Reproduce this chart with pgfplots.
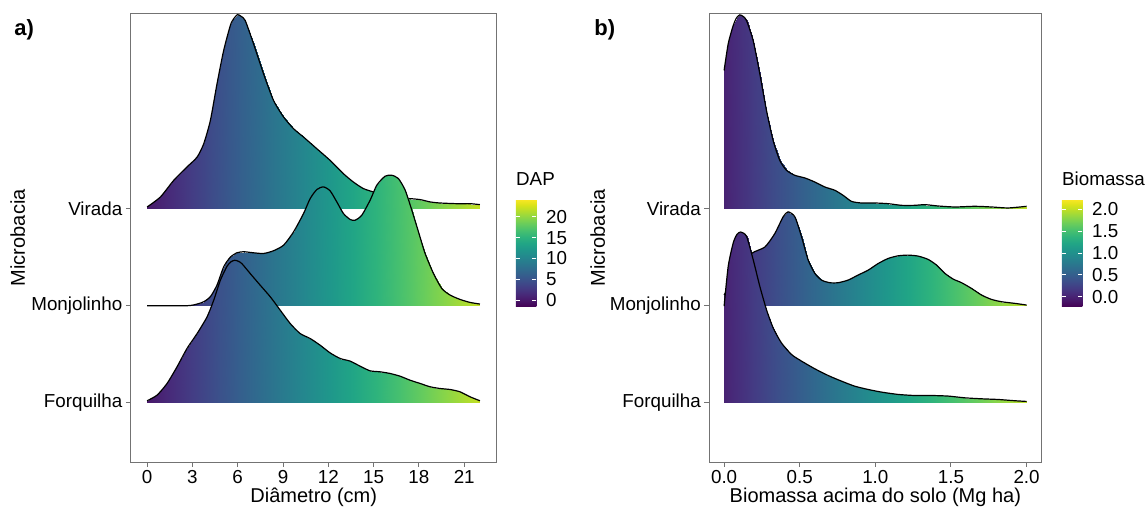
\documentclass[border=0pt]{standalone}
\usepackage{fontspec}
\setmainfont{Liberation Sans}
\usepackage{pgfplots}
\usepackage{pgfplotstable}
\pgfplotsset{compat=1.18}

\definecolor{framegray}{gray}{0.45}

% each ridge: first the baseline row, then the density row (same x)
% Diametro (cm)
\pgfplotstableread{
x y
0.00 3
0.88 3
1.76 3
2.64 3
3.31 3
3.75 3
4.19 3
4.63 3
5.07 3
5.51 3
5.73 3
5.99 3
6.24 3
6.50 3
7.05 3
7.71 3
8.37 3
9.04 3
9.70 3
10.36 3
11.24 3
12.12 3
13.00 3
13.66 3
14.33 3
15.00 3
15.65 3
16.53 3
17.41 3
18.08 3
18.74 3
19.40 3
20.50 3
21.38 3
22.04 3
0.00 3.017
0.88 3.120
1.76 3.291
2.64 3.429
3.31 3.531
3.75 3.669
4.19 3.909
4.63 4.286
5.07 4.629
5.51 4.886
5.73 4.955
5.99 4.999
6.24 4.979
6.50 4.937
7.05 4.697
7.71 4.389
8.37 4.115
9.04 3.943
9.70 3.823
10.36 3.737
11.24 3.617
12.12 3.497
13.00 3.360
13.66 3.274
14.33 3.206
15.00 3.171
15.65 3.137
16.53 3.110
17.41 3.103
18.08 3.093
18.74 3.069
19.40 3.058
20.50 3.051
21.38 3.051
22.04 3.041
}\virL

\pgfplotstableread{
x y
0.00 2
2.64 2
3.31 2
3.75 2
4.19 2
4.63 2
5.07 2
5.51 2
5.95 2
6.39 2
7.05 2
7.71 2
8.37 2
9.04 2
9.70 2
10.36 2
10.80 2
11.24 2
11.68 2
12.12 2
12.56 2
13.00 2
13.45 2
13.78 2
14.22 2
14.77 2
15.21 2
15.76 2
16.20 2
16.64 2
17.09 2
17.53 2
17.97 2
18.41 2
18.96 2
19.51 2
20.06 2
20.72 2
21.38 2
22.04 2
0.00 2.000
2.64 2.000
3.31 2.017
3.75 2.041
4.19 2.093
4.63 2.213
5.07 2.400
5.51 2.500
5.95 2.545
6.39 2.556
7.05 2.545
7.71 2.538
8.37 2.566
9.04 2.624
9.70 2.761
10.36 2.950
10.80 3.104
11.24 3.197
11.68 3.224
12.12 3.183
12.56 3.070
13.00 2.950
13.45 2.888
13.78 2.881
14.22 2.933
14.77 3.087
15.21 3.241
15.76 3.334
16.20 3.344
16.64 3.310
17.09 3.190
17.53 2.984
17.97 2.761
18.41 2.538
18.96 2.333
19.51 2.178
20.06 2.110
20.72 2.065
21.38 2.034
22.04 2.017
}\monL

\pgfplotstableread{
x y
0.00 1
0.66 1
1.32 1
1.98 1
2.64 1
3.31 1
3.97 1
4.41 1
4.85 1
5.29 1
5.55 1
5.80 1
6.04 1
6.28 1
6.83 1
7.49 1
8.16 1
8.82 1
9.48 1
10.14 1
10.80 1
11.46 1
12.12 1
12.79 1
13.45 1
14.11 1
14.77 1
15.43 1
16.09 1
16.75 1
17.41 1
18.08 1
18.74 1
19.40 1
20.06 1
20.72 1
21.38 1
22.04 1
0.00 1.021
0.66 1.079
1.32 1.199
1.98 1.370
2.64 1.559
3.31 1.713
3.97 1.885
4.41 2.056
4.85 2.262
5.29 2.406
5.55 2.452
5.80 2.468
6.04 2.458
6.28 2.433
6.83 2.331
7.49 2.211
8.16 2.091
8.82 1.953
9.48 1.816
10.14 1.713
10.80 1.662
11.46 1.593
12.12 1.514
12.79 1.456
13.45 1.429
14.11 1.377
14.77 1.329
15.43 1.319
16.09 1.302
16.75 1.274
17.41 1.233
18.08 1.199
18.74 1.165
19.40 1.147
20.06 1.137
20.72 1.113
21.38 1.062
22.04 1.021
}\forL

% Biomassa (Mg ha)
\pgfplotstableread{
x y
0.000 3
0.027 3
0.060 3
0.082 3
0.104 3
0.126 3
0.148 3
0.192 3
0.236 3
0.280 3
0.324 3
0.368 3
0.413 3
0.468 3
0.534 3
0.600 3
0.666 3
0.732 3
0.787 3
0.842 3
0.909 3
0.997 3
1.085 3
1.173 3
1.261 3
1.327 3
1.416 3
1.526 3
1.658 3
1.768 3
1.878 3
2.000 3
0.000 4.423
0.027 4.698
0.060 4.886
0.082 4.965
0.104 4.996
0.126 4.980
0.148 4.938
0.192 4.732
0.236 4.389
0.280 4.012
0.324 3.703
0.368 3.497
0.413 3.394
0.468 3.343
0.534 3.316
0.600 3.274
0.666 3.223
0.732 3.189
0.787 3.137
0.842 3.075
0.909 3.058
0.997 3.058
1.085 3.051
1.173 3.034
1.261 3.034
1.327 3.041
1.416 3.027
1.526 3.017
1.658 3.024
1.768 3.017
1.878 3.007
2.000 3.024
}\virR

\pgfplotstableread{
x y
0.000 2
0.050 2
0.100 2
0.181 2
0.269 2
0.335 2
0.390 2
0.423 2
0.468 2
0.512 2
0.556 2
0.600 2
0.644 2
0.699 2
0.754 2
0.820 2
0.886 2
0.953 2
1.019 2
1.085 2
1.151 2
1.217 2
1.283 2
1.349 2
1.405 2
1.460 2
1.515 2
1.570 2
1.636 2
1.702 2
1.768 2
1.834 2
1.923 2
2.000 2
0.000 2.110
0.050 2.250
0.100 2.380
0.181 2.538
0.269 2.604
0.335 2.743
0.390 2.915
0.423 2.967
0.468 2.915
0.512 2.710
0.556 2.470
0.600 2.333
0.644 2.264
0.699 2.237
0.754 2.237
0.820 2.264
0.886 2.316
0.953 2.367
1.019 2.435
1.085 2.487
1.151 2.514
1.217 2.521
1.283 2.511
1.349 2.477
1.405 2.418
1.460 2.333
1.515 2.274
1.570 2.237
1.636 2.178
1.702 2.110
1.768 2.065
1.834 2.041
1.923 2.024
2.000 2.007
}\monR

\pgfplotstableread{
x y
0.000 1
0.027 1
0.060 1
0.085 1
0.110 1
0.148 1
0.192 1
0.236 1
0.280 1
0.324 1
0.379 1
0.446 1
0.512 1
0.600 1
0.688 1
0.776 1
0.864 1
0.953 1
1.041 1
1.151 1
1.261 1
1.372 1
1.482 1
1.592 1
1.702 1
1.812 1
1.923 1
2.000 1
0.000 1.995
0.027 2.406
0.060 2.646
0.085 2.735
0.110 2.759
0.148 2.715
0.192 2.475
0.236 2.200
0.280 1.960
0.324 1.772
0.379 1.617
0.446 1.497
0.512 1.429
0.600 1.350
0.688 1.281
0.776 1.223
0.864 1.171
0.953 1.137
1.041 1.110
1.151 1.086
1.261 1.075
1.372 1.075
1.482 1.069
1.592 1.051
1.702 1.041
1.812 1.034
1.923 1.021
2.000 1.014
}\forR

\pgfplotsset{
  ridgeaxis/.style={
    scale only axis, height=224.25pt,
    anchor=south west,
    ymin=0.39, ymax=5.01,
    ytick={1,2,3}, yticklabels={Forquilha,Monjolinho,Virada},
    tick pos=left, tick align=outside, major tick length=2.3pt,
    axis line style={framegray, line width=0.5pt},
    tick style={framegray, line width=0.5pt},
    tick label style={font=\fontsize{9.4}{11}\selectfont, black},
    xticklabel style={inner sep=1.7pt},
    yticklabel style={inner sep=1.6pt},
    label style={font=\fontsize{10}{12}\selectfont},
    xlabel style={at={(axis description cs:0.5,-0.0914)}, anchor=base},
    ylabel=Microbacia,
    colormap/viridis,
    clip=false,
    /pgf/number format/assume math mode=true,
    colorbar,
    colorbar style={
      scale only axis, width=10.3pt, height=53.85pt,
      at={(parent axis.east)}, anchor=west, yshift=-7.55pt,
      axis line style={draw=none},
      tick align=inside, major tick length=2.2pt,
      tick style={white, line width=0.5pt},
      ytick pos=both, yticklabel pos=right,
      yticklabel style={font=\fontsize{9.4}{11}\selectfont, inner sep=0pt, xshift=4.7pt},
      title style={at={(axis description cs:0,1)}, anchor=base west, yshift=0.7pt,
        inner sep=0pt, font=\fontsize{9.4}{11}\selectfont},
      /pgf/number format/assume math mode=true,
    },
  },
  ridge/.style={surf, shader=interp, point meta=x, mesh/rows=2},
  outline/.style={black, line width=0.6pt, smooth, tension=0.4, mark=none},
}

\begin{document}
\begin{tikzpicture}
\useasboundingbox (0,0) rectangle (573.5pt,255pt);

\begin{axis}[ridgeaxis,
  at={(65.25pt,24pt)}, width=183.25pt,
  xmin=-1.1, xmax=23.17, xtick={0,3,...,21},
  xlabel={Diâmetro (cm)},
  ylabel style={at={(axis description cs:-0.2879,0.5)}, anchor=base},
  point meta min=-1.6, point meta max=24.3,
  colorbar style={xshift=0.85pt, ytick={0,5,10,15,20}, title=DAP},
]
\addplot[ridge] table {\virL};
\addplot[outline, skip coords between index={0}{35}] table {\virL};
\addplot[ridge] table {\monL};
\addplot[outline, skip coords between index={0}{40}] table {\monL};
\addplot[ridge] table {\forL};
\addplot[outline, skip coords between index={0}{38}] table {\forL};
\end{axis}

\begin{axis}[ridgeaxis,
  at={(354.5pt,24pt)}, width=166.35pt,
  xmin=-0.1, xmax=2.1, xtick={0,0.5,1,1.5,2},
  xticklabel style={/pgf/number format/fixed, /pgf/number format/fixed zerofill,
    /pgf/number format/precision=1},
  xlabel={Biomassa acima do solo (Mg ha)},
  ylabel style={at={(axis description cs:-0.3126,0.5)}, anchor=base},
  point meta min=-0.23, point meta max=2.24,
  colorbar style={xshift=1.5pt, ytick={0,0.5,1,1.5,2}, title=Biomassa,
    yticklabel style={/pgf/number format/fixed, /pgf/number format/fixed zerofill,
      /pgf/number format/precision=1}},
]
\addplot[ridge] table {\virR};
\addplot[outline, skip coords between index={0}{32}] table {\virR};
\addplot[ridge] table {\monR};
\addplot[outline, skip coords between index={0}{34}] table {\monR};
\addplot[ridge] table {\forR};
\addplot[outline, skip coords between index={0}{28}] table {\forR};
\end{axis}

\node[anchor=base west, inner sep=0pt, font=\fontsize{11}{13}\selectfont\bfseries] at (7pt,237pt) {a)};
\node[anchor=base west, inner sep=0pt, font=\fontsize{11}{13}\selectfont\bfseries] at (297pt,237pt) {b)};
\end{tikzpicture}
\end{document}
